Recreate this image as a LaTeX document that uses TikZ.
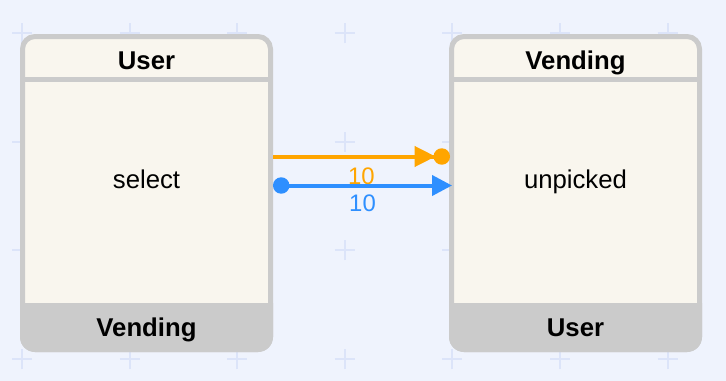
\documentclass[tikz,border=0pt]{standalone}
\usepackage{fontspec}
\setmainfont{Liberation Sans}
\usetikzlibrary{positioning,arrows.meta}
\definecolor{canvasbg}{HTML}{EFF3FD}
\definecolor{gridmark}{HTML}{DCE4F9}
\definecolor{boxfill}{HTML}{F9F6EE}
\definecolor{boxedge}{HTML}{CBCBCB}
\definecolor{sendorange}{HTML}{FFA500}
\definecolor{recvblue}{HTML}{2E8FFF}
\tikzset{
  statebox/.style={draw=boxedge, fill=boxfill, line width=1.25mm, rounded corners=3.125mm,
    minimum width=6.2cm, minimum height=7.825cm, inner sep=0pt},
  headtext/.style={font=\fontsize{18.3}{21}\selectfont\bfseries, anchor=base, inner sep=0pt},
  bodytext/.style={font=\fontsize{18.3}{21}\selectfont, anchor=base, inner sep=0pt},
  counttext/.style={font=\fontsize{17}{19}\selectfont, inner sep=0pt},
  flow/.style={line width=1mm},
}

\begin{document}
\begin{tikzpicture}
  \fill[canvasbg] (0,0) rectangle (18.15,-9.525);
  \useasboundingbox (0,0) rectangle (18.15,-9.525);
  \foreach \gx in {0,...,6}
    \foreach \gy in {0,...,3}
      \draw[gridmark, line width=0.5mm]
        (0.55+2.69*\gx-0.25,-0.825-2.7175*\gy) -- ++(0.5,0)
        (0.55+2.69*\gx,-0.825-2.7175*\gy-0.25) -- ++(0,0.5);

  \node[statebox] (user) at (3.6625,-4.825) {};
  \node[statebox] (vending) at (14.3875,-4.825) {};

  % header rule and grey footer of each box
  \foreach \b in {user,vending} {
    \draw[boxedge, line width=1.25mm] ([yshift=-11.375mm]\b.north west) -- ([yshift=-11.375mm]\b.north east);
    \fill[boxedge, rounded corners=3.75mm] ([yshift=12.25mm]\b.south west) -- (\b.south west)
      -- (\b.south east) -- ([yshift=12.25mm]\b.south east);
  }

  \node[headtext] (userhead) at ([yshift=-8.75mm]user.north) {User};
  \node[bodytext] (userbody) at ([yshift=1.25mm]user.center) {select};
  \node[headtext] (userfoot) at ([yshift=4mm]user.south) {Vending};

  \node[headtext] (vendinghead) at ([yshift=-8.75mm]vending.north) {Vending};
  \node[bodytext] (vendingbody) at ([yshift=1.25mm]vending.center) {unpicked};
  \node[headtext] (vendingfoot) at ([yshift=4mm]vending.south) {User};

  \draw[flow, sendorange, -{Triangle[length=5.25mm,width=5mm,sep=-0.5mm]Circle[length=4.1mm]}]
    ([yshift=9.125mm]user.east) -- ([yshift=9.125mm,xshift=0.25mm]vending.west)
    node[counttext, midway, below=2.4mm] (sendcount) {10};
  \draw[flow, recvblue, {Circle[length=4.1mm]}-{Triangle[length=5mm,width=5mm]}]
    ([yshift=1.875mm]user.east) -- ([yshift=1.875mm,xshift=0.75mm]vending.west)
    node[counttext, midway, below=1.8mm] (recvcount) {10};
\end{tikzpicture}
\end{document}
